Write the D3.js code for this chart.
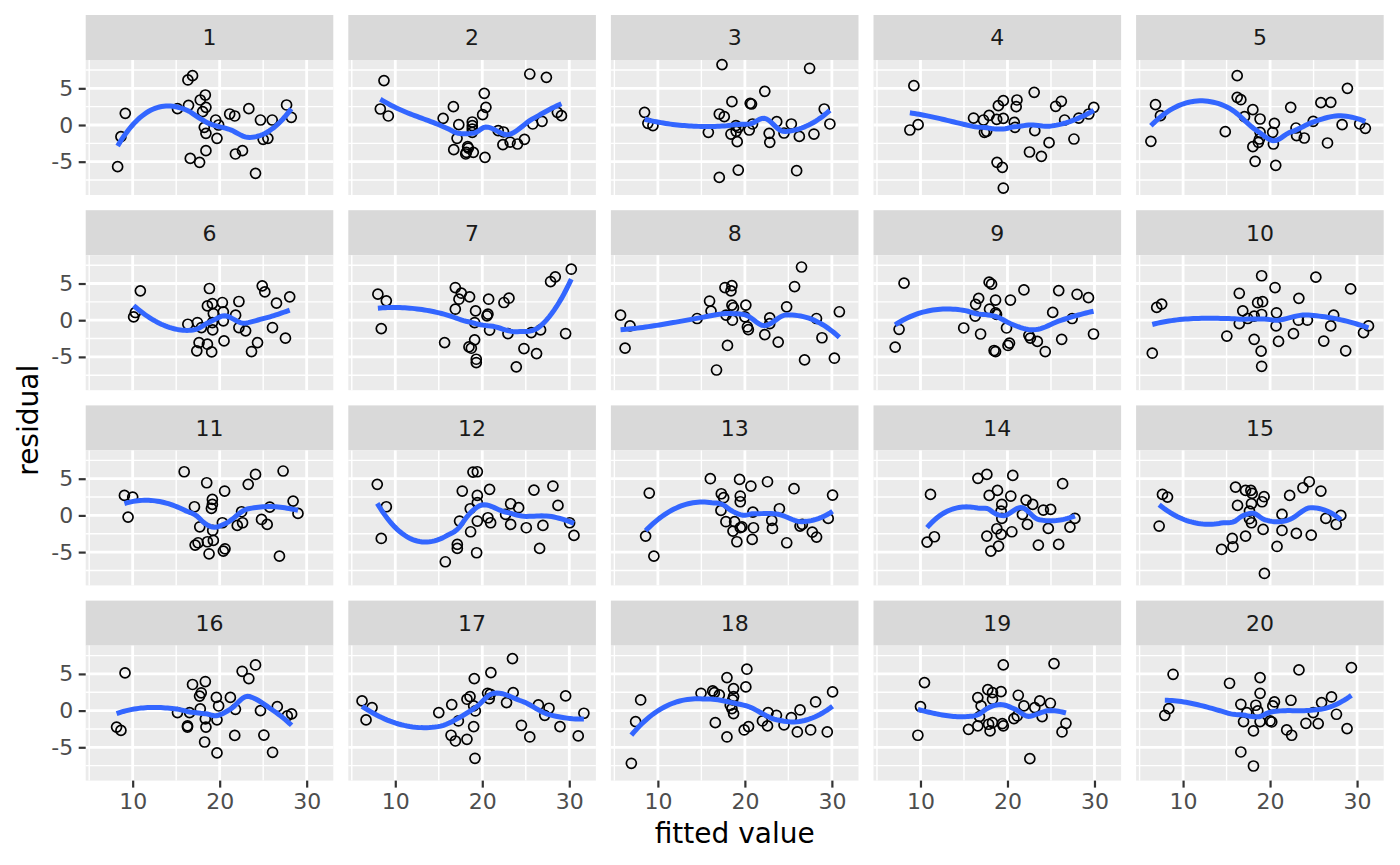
<!DOCTYPE html>
<html lang="en">
  <head>
    <meta charset="UTF-8" />
    <title>Residual lineup</title>
    <script src="https://d3js.org/d3.v7.min.js"></script>
    <style>
      body {
        margin: 0;
        background: #ffffff;
      }
      text {
        font-family: "DejaVu Sans", sans-serif;
      }
    </style>
  </head>
  <body>
    <div id="chart"></div>

    <script>
      // facet labels and axis ticks
      const panelLabels = ["1", "2", "3", "4", "5", "6", "7", "8", "9", "10",
        "11", "12", "13", "14", "15", "16", "17", "18", "19", "20"];
      const xTicks = [10, 20, 30];
      const xMinor = [5, 15, 25];
      const yTicks = [-5, 0, 5];
      const yMinor = [-7.5, -2.5, 2.5, 7.5];

      // fitted values and residuals, one pair of arrays per panel
      const fit01 = [8.27, 8.65, 9.15, 15.15, 16.35, 16.88, 16.42, 16.62, 17.77, 18.35, 18.42, 18.04, 17.69, 18.42, 18.42, 18.23, 19.54, 19.88, 19.69, 21.15, 21.73, 23.35, 21.81, 22.62, 24.12, 24.69, 26.04, 25.0, 25.54, 27.69, 28.23];
      const res01 = [-5.68, -1.59, 1.59, 2.23, 6.14, 6.73, 2.68, -4.55, 3.41, 4.09, 2.41, 1.82, -5.09, -3.5, -1.14, -0.32, 0.68, 0.0, -1.82, 1.5, 1.23, 2.23, -3.95, -3.5, -6.59, 0.68, 0.68, -1.95, -1.82, 2.73, 1.05];
      const fit02 = [8.7, 8.28, 9.2, 15.5, 16.68, 17.3, 17.1, 16.72, 18.32, 18.17, 18.97, 18.4, 18.1, 18.85, 18.85, 18.85, 18.85, 20.23, 20.42, 20.04, 20.31, 21.83, 22.44, 22.37, 23.2, 24.05, 24.85, 25.46, 27.37, 25.8, 26.87, 28.63, 29.1];
      const res02 = [6.05, 2.18, 1.23, 0.91, 2.5, 0.05, -1.82, -3.36, -2.95, -3.73, -3.73, -3.14, -3.95, 0.41, -0.09, -0.55, -1.0, 4.32, 2.41, 1.41, -4.41, -0.77, -0.95, -2.68, -2.32, -2.59, -1.95, 6.95, 6.5, 0.14, 0.5, 1.73, 1.27];
      const fit03 = [8.47, 8.85, 9.43, 17.37, 15.8, 17.06, 17.63, 18.51, 20.61, 20.76, 22.29, 18.4, 18.97, 19.27, 19.0, 19.12, 17.06, 19.24, 20.5, 20.88, 22.79, 22.86, 23.66, 24.5, 25.34, 26.26, 25.95, 27.44, 27.94, 29.12, 29.77];
      const res03 = [1.73, 0.23, -0.09, 8.23, -1.0, 1.5, 1.14, 3.18, 2.95, 2.86, 4.59, -1.23, -0.09, -0.32, -0.86, -2.27, -7.14, -6.14, -0.68, 0.14, -1.14, -2.36, 0.45, -1.09, 0.14, -1.55, -6.23, 7.73, -1.23, 2.18, 0.14];
      const fit04 = [9.24, 8.78, 9.73, 16.1, 17.24, 17.89, 17.35, 17.6, 18.76, 18.95, 19.52, 19.52, 18.8, 19.41, 19.52, 20.78, 20.86, 21.09, 21.0, 23.07, 23.14, 22.53, 23.9, 24.78, 25.54, 26.19, 26.57, 27.64, 28.2, 29.35, 29.92];
      const res04 = [5.36, -0.68, 0.05, 0.95, 0.68, 1.32, -1.0, -0.86, 0.77, 2.64, 3.32, 0.91, -5.09, -5.77, -8.59, 0.36, -0.32, 3.41, 2.5, 4.45, -0.77, -3.68, -4.27, -2.41, 2.55, 3.23, 0.68, -1.91, 0.95, 1.5, 2.41];
      const fit05 = [6.3, 6.83, 7.4, 14.85, 16.22, 16.22, 16.64, 17.06, 18.02, 18.85, 18.02, 18.28, 18.85, 18.78, 18.66, 20.5, 20.3, 20.38, 20.65, 22.37, 22.98, 23.05, 23.93, 24.96, 25.84, 26.98, 26.6, 28.28, 28.89, 30.3, 30.95];
      const res05 = [-2.23, 2.77, 1.27, -0.91, 6.73, 3.77, 3.45, 1.14, 2.09, 0.82, -2.95, -4.95, -1.0, -1.91, -2.36, 0.23, -1.0, -2.59, -5.5, 2.41, -0.41, -1.45, -1.77, 0.5, 3.05, 3.09, -2.45, 0.05, 5.0, 0.14, -0.45];
      const fit06 = [10.11, 10.31, 10.88, 16.34, 17.44, 17.9, 17.63, 17.37, 18.59, 19.08, 18.82, 18.59, 19.16, 19.27, 19.16, 19.2, 20.31, 20.42, 20.42, 20.5, 21.83, 22.21, 22.21, 22.98, 24.89, 25.19, 24.35, 23.66, 26.07, 26.53, 28.05, 27.56];
      const res06 = [0.45, 1.05, 4.0, -0.55, -0.32, -1.0, -3.05, -4.18, -3.27, -4.32, 4.32, 1.95, 2.27, 0.91, -0.32, -1.32, 2.41, 1.14, -0.09, -2.82, 0.68, 2.55, -1.0, -1.45, 4.68, 3.86, -3.05, -4.27, -1.0, 2.32, 3.18, -2.45];
      const fit07 = [8.0, 8.97, 8.39, 15.67, 16.9, 17.59, 17.32, 18.54, 16.9, 19.23, 19.12, 19.12, 18.47, 18.74, 19.31, 19.31, 20.54, 20.65, 20.73, 20.84, 22.49, 23.07, 22.95, 23.91, 24.79, 25.63, 26.24, 26.7, 27.85, 28.39, 30.23, 29.58];
      const res07 = [3.55, 2.64, -1.14, -3.05, 4.45, 3.68, 2.86, 3.18, 1.5, 1.27, -0.32, -2.68, -3.64, -3.82, -5.32, -5.77, 0.59, 0.82, 2.86, -1.36, 2.41, 3.0, -1.82, -6.36, -3.86, -1.68, -4.55, -1.32, 5.27, 5.91, 6.95, -1.82];
      const fit08 = [5.71, 6.8, 6.23, 14.51, 15.94, 16.11, 16.74, 17.71, 18.51, 18.4, 17.83, 18.51, 18.69, 18.57, 18.0, 20.11, 20.0, 20.29, 20.4, 22.29, 22.86, 22.86, 23.83, 24.8, 25.71, 26.51, 26.86, 28.23, 28.86, 30.29, 30.86];
      const res08 = [0.69, -0.78, -3.81, 0.23, 2.61, 1.24, -6.79, 4.45, 4.72, 3.99, 0.69, 2.06, 1.7, 0, -3.44, 2.06, 0.46, -0.92, -1.28, -1.97, 0.32, -0.46, -2.98, 1.83, 4.59, 7.25, -5.41, 0.23, -2.39, -5.18, 1.15];
      const fit09 = [7.09, 7.54, 8.11, 14.97, 16.91, 16.34, 16.69, 16.29, 17.89, 18.17, 17.94, 18.63, 18.63, 18.74, 18.46, 18.63, 20.06, 20.23, 19.89, 20.34, 21.89, 22.46, 22.63, 23.43, 24.34, 25.2, 25.89, 26.23, 27.43, 28.0, 29.31, 29.89];
      const res09 = [-3.67, -1.24, 5.05, -1.06, -1.88, 2.16, 2.98, 0.55, 5.18, 4.91, 1.51, 2.75, 1.01, 0.78, -4.13, -4.27, -3.44, -3.12, -1.06, 2.75, 4.13, -2.06, -2.43, -2.89, -4.27, 1.06, 4.04, -2.61, 0.23, 3.53, 3.07, -1.88];
      const fit10 = [6.46, 6.97, 7.54, 15.03, 16.46, 16.46, 16.86, 17.43, 18.17, 18.17, 18.57, 19.14, 19.03, 19.03, 18.97, 19.03, 20.57, 20.74, 20.69, 20.97, 22.69, 23.31, 23.26, 24.29, 25.26, 26.17, 26.97, 27.31, 28.69, 29.26, 30.74, 31.31];
      const res10 = [-4.5, 1.74, 2.2, -2.16, 3.67, -0.46, 1.28, 0.23, 0.55, -2.61, 2.39, 2.52, 6.06, 0.78, -4.22, -6.28, 4.45, 1.01, -0.78, -2.89, -1.83, 2.98, 0, 0, 5.87, -2.84, -0.78, 0.69, -4.17, 4.27, -1.7, -0.78];
      const fit11 = [9.05, 10.0, 9.47, 15.92, 17.1, 18.51, 19.16, 19.16, 19.05, 20.57, 17.71, 19.2, 20.31, 17.18, 17.52, 18.59, 19.27, 18.78, 20.42, 20.61, 22.52, 22.02, 22.63, 23.28, 24.12, 24.81, 25.46, 25.76, 26.87, 27.29, 28.44, 29.0];
      const res11 = [2.73, 2.5, -0.23, 5.95, 1.18, 4.45, 2.18, 1.5, 0.95, 3.32, -1.55, -2.05, -1.0, -4.05, -3.73, -3.59, -3.41, -5.23, -4.86, -4.55, 0.5, -1.36, -1.0, 4.23, 5.59, -0.55, -1.23, 1.14, -5.55, 6.05, 1.95, 0.27];
      const fit12 = [7.93, 8.97, 8.39, 15.75, 17.13, 17.13, 17.39, 17.7, 18.62, 18.66, 18.93, 19.43, 19.43, 19.43, 19.43, 19.35, 20.84, 20.65, 20.96, 22.68, 23.26, 24.18, 23.26, 25.06, 25.94, 26.59, 26.97, 28.12, 28.7, 30.04, 30.54];
      const res12 = [4.23, 1.18, -3.14, -6.32, -3.95, -4.5, -0.77, 3.32, 0.91, -2.23, 5.91, 5.95, 2.73, 1.73, -0.77, -5.09, 3.55, -0.32, -1.0, 0.14, 1.59, 1.05, -1.23, -1.68, 3.45, -4.5, -1.36, 4.0, 1.36, -1.0, -2.73];
      const fit13 = [8.59, 9.54, 9.01, 16.03, 17.29, 17.56, 17.25, 17.82, 18.82, 18.63, 19.08, 19.39, 19.47, 19.47, 19.47, 19.66, 20.69, 20.92, 20.99, 20.84, 22.6, 23.09, 23.17, 23.97, 24.81, 25.65, 26.34, 26.6, 27.75, 28.24, 29.58, 30.08];
      const res13 = [-2.82, -5.55, 3.05, 5.0, 2.95, 2.41, 0.68, -0.86, -0.86, -2.14, -3.59, 4.91, 2.64, 1.86, -1.68, -1.55, 4.0, 0.45, -1.68, -3.27, 4.59, -0.68, -1.77, 0.91, -3.73, 3.64, -1.45, -1.23, -2.27, -2.95, -0.41, 2.77];
      const fit14 = [10.76, 11.6, 11.15, 16.6, 17.63, 17.9, 18.85, 19.35, 19.27, 19.35, 18.78, 17.63, 19.27, 18.97, 18.09, 20.38, 20.61, 20.5, 21.72, 22.14, 22.9, 22.29, 23.55, 24.12, 24.96, 24.69, 25.88, 26.34, 27.18, 27.75];
      const res14 = [-3.64, -2.91, 2.86, 5.05, 5.59, 2.73, 3.41, 1.5, 0.59, -0.41, -1.82, -2.82, -2.59, -4.18, -4.86, 2.64, 5.45, -2.23, 0.14, 2.09, 1.5, -1.23, -4.05, 0.73, 0.82, -1.77, -3.95, 4.32, -1.59, -0.41];
      const fit15 = [7.25, 7.63, 8.21, 14.43, 15.65, 15.73, 16.03, 16.26, 17.18, 17.79, 17.94, 17.86, 17.63, 17.63, 17.86, 17.18, 19.08, 19.31, 19.2, 19.35, 20.8, 21.37, 21.37, 22.25, 23.02, 23.78, 24.5, 24.73, 25.84, 26.41, 27.6, 28.13];
      const res15 = [-1.45, 2.86, 2.5, -4.64, -3.14, -4.27, 3.86, 1.36, 3.41, 3.41, 3.0, 1.59, 0.59, -0.45, -1.0, -2.82, 1.86, 2.55, -1.91, -7.91, -4.23, 0.14, -2.05, 2.73, -2.45, 3.77, 4.59, -2.68, 3.32, -0.41, -1.23, 0.0];
      const fit16 = [8.15, 8.65, 9.12, 15.15, 16.3, 16.3, 16.54, 16.88, 17.69, 17.88, 17.77, 18.35, 18.35, 18.42, 18.27, 19.62, 19.88, 19.69, 19.69, 21.23, 21.81, 21.73, 22.58, 23.35, 24.12, 24.69, 25.08, 26.08, 26.62, 27.77, 28.27];
      const res16 = [-2.25, -2.7, 5.14, -0.27, -2.07, -2.25, -0.27, 3.56, 1.98, 2.43, 0.23, 3.96, -1.13, -2.25, -4.28, 1.8, 0.63, -1.26, -5.77, 1.8, 0.18, -3.38, 5.36, 4.37, 6.22, 0.0, -3.33, -5.68, 0.54, -0.72, -0.45];
      const fit17 = [6.18, 7.33, 6.64, 15.0, 16.49, 16.41, 16.91, 17.25, 18.24, 18.59, 18.24, 19.01, 19.2, 19.08, 19.01, 19.16, 20.61, 20.92, 20.8, 20.99, 22.79, 23.47, 23.55, 24.5, 25.46, 26.45, 27.18, 27.67, 28.93, 29.58, 31.03, 31.68];
      const res17 = [1.32, 0.41, -1.27, -0.27, 0.82, -3.36, -4.14, -1.41, 1.55, 1.91, -3.91, 0.64, -0.05, 4.36, -2.18, -6.5, 2.36, 2.23, 1.64, 5.18, 1.09, 7.09, 2.45, -2.0, -3.59, 0.77, -0.64, 0.32, -2.18, 2.0, -3.45, -0.36];
      const fit18 = [6.95, 7.44, 8.02, 14.96, 16.3, 16.49, 17.06, 16.6, 17.94, 18.7, 18.7, 18.59, 18.32, 18.51, 18.7, 17.94, 20.23, 20.11, 19.92, 20.42, 22.02, 22.67, 22.6, 23.63, 24.5, 25.34, 26.03, 26.34, 27.56, 28.13, 29.47, 30.08];
      const res18 = [-7.18, -1.5, 1.45, 2.36, 2.68, 2.45, 2.14, -1.64, 4.5, 3.0, 1.91, 1.45, 0.73, 0.27, -0.41, -3.59, 5.64, 3.23, -2.64, -2.18, -1.41, -0.27, -2.09, -0.64, -1.95, -0.95, -2.91, 0.09, -2.64, 1.18, -2.91, 2.55];
      const fit19 = [9.7, 10.0, 10.46, 15.52, 16.59, 16.97, 16.78, 16.59, 17.74, 18.28, 18.28, 17.83, 18.0, 18.28, 19.26, 19.52, 19.41, 19.52, 20.74, 21.12, 21.24, 21.89, 22.57, 23.14, 23.71, 23.98, 24.93, 25.35, 26.27, 26.72];
      const res19 = [-3.36, 0.55, 3.82, -2.55, 1.77, 0.64, -0.82, -2.09, 2.86, 2.45, 1.55, -1.86, -2.77, -1.64, 2.59, 6.23, -1.77, -2.09, -1.09, -0.73, 2.09, 0.64, -6.55, 0.41, 1.32, -0.82, 1.0, 6.41, -2.91, -1.73];
      const fit20 = [7.9, 8.36, 8.85, 15.34, 16.64, 16.95, 16.64, 17.33, 18.09, 18.09, 18.36, 18.59, 18.85, 18.85, 18.85, 20.0, 20.19, 20.31, 20.5, 21.91, 22.48, 22.4, 23.32, 24.12, 24.96, 25.53, 25.92, 27.06, 27.63, 28.85, 29.35];
      const res20 = [-0.64, 0.27, 4.95, 3.73, 0.86, -1.5, -5.64, -0.27, -2.77, -7.55, 0.73, -0.05, 4.5, 2.36, -1.5, -1.41, -1.55, 0.64, 1.18, -2.64, -3.36, 1.41, 5.55, -1.73, -0.27, -1.77, 1.09, 1.86, -0.5, -2.45, 5.86];

      const fitted = [fit01, fit02, fit03, fit04, fit05, fit06, fit07, fit08, fit09, fit10,
        fit11, fit12, fit13, fit14, fit15, fit16, fit17, fit18, fit19, fit20];
      const resid = [res01, res02, res03, res04, res05, res06, res07, res08, res09, res10,
        res11, res12, res13, res14, res15, res16, res17, res18, res19, res20];

      // layout (px)
      const width = 1400;
      const height = 865;
      const nCol = 5;
      const left0 = 85.7;
      const colStep = 262.6;
      const panelW = 247.6;
      const top0 = 15;
      const rowStep = 195.2;
      const stripH = 45;
      const panelH = 135;

      // shared scales (ggplot expands the data range by 5%)
      const x = d3.scaleLinear().domain([4.6, 33.06]).range([0, panelW]);
      const y = d3.scaleLinear().domain([-9.54, 8.86]).range([panelH, 0]);

      // ---- loess (span 0.75, degree 2) with kd-tree vertices + cubic Hermite
      // interpolation, the way R's loess(surface = "interpolate") does it
      function solve3(A, b) {
        const m = A.map((row, i) => row.concat([b[i]]));
        for (let c = 0; c < 3; c++) {
          let p = c;
          for (let r = c + 1; r < 3; r++) if (Math.abs(m[r][c]) > Math.abs(m[p][c])) p = r;
          [m[c], m[p]] = [m[p], m[c]];
          for (let r = c + 1; r < 3; r++) {
            const f = m[r][c] / m[c][c];
            for (let k = c; k < 4; k++) m[r][k] -= f * m[c][k];
          }
        }
        const out = [0, 0, 0];
        for (let r = 2; r >= 0; r--) {
          let s = m[r][3];
          for (let k = r + 1; k < 3; k++) s -= m[r][k] * out[k];
          out[r] = s / m[r][r];
        }
        return out;
      }

      // local quadratic at x0 -> [value, slope]
      function localFit(xs, ys, x0, q) {
        const dist = xs.map((v) => Math.abs(v - x0));
        const h = dist.slice().sort(d3.ascending)[q - 1];
        const s = [0, 0, 0, 0, 0];
        const t = [0, 0, 0];
        xs.forEach((xi, i) => {
          const u = dist[i] / h;
          if (u >= 1) return;
          const w = Math.pow(1 - u * u * u, 3);
          const dx = xi - x0;
          let p = 1;
          for (let j = 0; j < 5; j++) {
            s[j] += w * p;
            if (j < 3) t[j] += w * p * ys[i];
            p *= dx;
          }
        });
        const b = solve3(
          [
            [s[0], s[1], s[2]],
            [s[1], s[2], s[3]],
            [s[2], s[3], s[4]],
          ],
          t
        );
        return [b[0], b[1]];
      }

      function loess(xs, ys, span = 0.75, nOut = 80) {
        const n = xs.length;
        const q = Math.floor(n * span);
        const fc = Math.floor(n * span * 0.2);
        const sorted = xs.slice().sort(d3.ascending);
        const lo = sorted[0];
        const hi = sorted[n - 1];
        const mu = 0.005 * (hi - lo);
        const vlo = lo - mu;
        const vhi = hi + mu;
        const fd = 0.05 * (vhi - vlo);
        const verts = [vlo, vhi];

        function split(pts, a, b) {
          if (pts.length <= fc || b - a <= fd) return;
          let m = Math.floor((pts.length - 1) / 2);
          let off = 0;
          while (m + off < pts.length - 1 && m + off >= 0) {
            if (pts[m + off] === pts[m + off + 1]) {
              off = -off;
              if (off >= 0) off += 1;
            } else {
              m += off;
              break;
            }
          }
          const v = pts[m];
          if (v === a || v === b) return;
          verts.push(v);
          split(pts.slice(0, m + 1), a, v);
          split(pts.slice(m + 1), v, b);
        }
        split(sorted, vlo, vhi);
        verts.sort(d3.ascending);
        const vals = verts.map((v) => localFit(xs, ys, v, q));

        return d3.range(nOut).map((k) => {
          const x0 = lo + ((hi - lo) * k) / (nOut - 1);
          let j = d3.bisectRight(verts, x0) - 1;
          j = Math.max(0, Math.min(verts.length - 2, j));
          const a = verts[j];
          const b = verts[j + 1];
          const L = b - a;
          const hh = (x0 - a) / L;
          const phi0 = (1 - hh) * (1 - hh) * (1 + 2 * hh);
          const phi1 = hh * hh * (3 - 2 * hh);
          const psi0 = hh * (1 - hh) * (1 - hh);
          const psi1 = -hh * hh * (1 - hh);
          const yv = phi0 * vals[j][0] + phi1 * vals[j + 1][0] + (psi0 * vals[j][1] + psi1 * vals[j + 1][1]) * L;
          return [x0, yv];
        });
      }

      const svg = d3
        .select("#chart")
        .append("svg")
        .attr("width", width)
        .attr("height", height);

      svg.append("rect").attr("width", width).attr("height", height).attr("fill", "#ffffff");

      const line = d3
        .line()
        .x((d) => x(d[0]))
        .y((d) => y(d[1]));

      panelLabels.forEach((label, i) => {
        const col = i % nCol;
        const row = Math.floor(i / nCol);
        const g = svg
          .append("g")
          .attr("transform", `translate(${left0 + col * colStep},${top0 + row * rowStep})`);

        // strip
        g.append("rect")
          .attr("width", panelW)
          .attr("height", stripH)
          .attr("fill", "#d9d9d9");
        g.append("text")
          .attr("x", panelW / 2)
          .attr("y", stripH / 2)
          .attr("dy", "0.36em")
          .attr("text-anchor", "middle")
          .attr("fill", "#1a1a1a")
          .style("font-size", "22px")
          .text(label);

        // panel
        const p = g.append("g").attr("transform", `translate(0,${stripH})`);
        const clipId = `clip-${i}`;
        p.append("clipPath")
          .attr("id", clipId)
          .append("rect")
          .attr("width", panelW)
          .attr("height", panelH);

        p.append("rect")
          .attr("width", panelW)
          .attr("height", panelH)
          .attr("fill", "#ebebeb");

        p.selectAll(".vminor")
          .data(xMinor)
          .join("line")
          .attr("x1", (d) => x(d))
          .attr("x2", (d) => x(d))
          .attr("y1", 0)
          .attr("y2", panelH)
          .attr("stroke", "#ffffff")
          .attr("stroke-width", 1.4);
        p.selectAll(".hminor")
          .data(yMinor)
          .join("line")
          .attr("x1", 0)
          .attr("x2", panelW)
          .attr("y1", (d) => y(d))
          .attr("y2", (d) => y(d))
          .attr("stroke", "#ffffff")
          .attr("stroke-width", 1.4);
        p.selectAll(".vmajor")
          .data(xTicks)
          .join("line")
          .attr("x1", (d) => x(d))
          .attr("x2", (d) => x(d))
          .attr("y1", 0)
          .attr("y2", panelH)
          .attr("stroke", "#ffffff")
          .attr("stroke-width", 2.8);
        p.selectAll(".hmajor")
          .data(yTicks)
          .join("line")
          .attr("x1", 0)
          .attr("x2", panelW)
          .attr("y1", (d) => y(d))
          .attr("y2", (d) => y(d))
          .attr("stroke", "#ffffff")
          .attr("stroke-width", 2.8);

        const pts = d3.zip(fitted[i], resid[i]);

        p.append("g")
          .selectAll("circle")
          .data(pts)
          .join("circle")
          .attr("cx", (d) => x(d[0]))
          .attr("cy", (d) => y(d[1]))
          .attr("r", 5)
          .attr("fill", "none")
          .attr("stroke", "#000000")
          .attr("stroke-width", 1.7);

        p.append("path")
          .datum(loess(fitted[i], resid[i]))
          .attr("clip-path", `url(#${clipId})`)
          .attr("d", line)
          .attr("fill", "none")
          .attr("stroke", "#3366ff")
          .attr("stroke-width", 5);

        // axes on the outer panels only
        if (row === 3) {
          const ax = p
            .append("g")
            .attr("transform", `translate(0,${panelH})`)
            .call(d3.axisBottom(x).tickValues(xTicks).tickSize(7).tickPadding(5.5).tickFormat((d) => String(d)));
          styleAxis(ax);
        }
        if (col === 0) {
          const ay = p
            .append("g")
            .call(d3.axisLeft(y).tickValues(yTicks).tickSize(7).tickPadding(5.5).tickFormat((d) => String(d)));
          styleAxis(ay);
        }
      });

      function styleAxis(a) {
        a.select(".domain").remove();
        a.selectAll(".tick line").attr("stroke", "#333333").attr("stroke-width", 2.2);
        a.selectAll(".tick text")
          .attr("fill", "#4d4d4d")
          .style("font-size", "22px")
          .style("font-family", "DejaVu Sans, sans-serif");
      }

      // axis titles
      svg
        .append("text")
        .attr("x", left0 + (4 * colStep + panelW) / 2)
        .attr("y", 843)
        .attr("text-anchor", "middle")
        .attr("fill", "#000000")
        .style("font-size", "28px")
        .text("fitted value");

      svg
        .append("text")
        .attr("transform", `translate(28,${top0 + stripH + (3 * rowStep + panelH) / 2}) rotate(-90)`)
        .attr("dy", "0.36em")
        .attr("text-anchor", "middle")
        .attr("fill", "#000000")
        .style("font-size", "28px")
        .text("residual");
    </script>
  </body>
</html>
